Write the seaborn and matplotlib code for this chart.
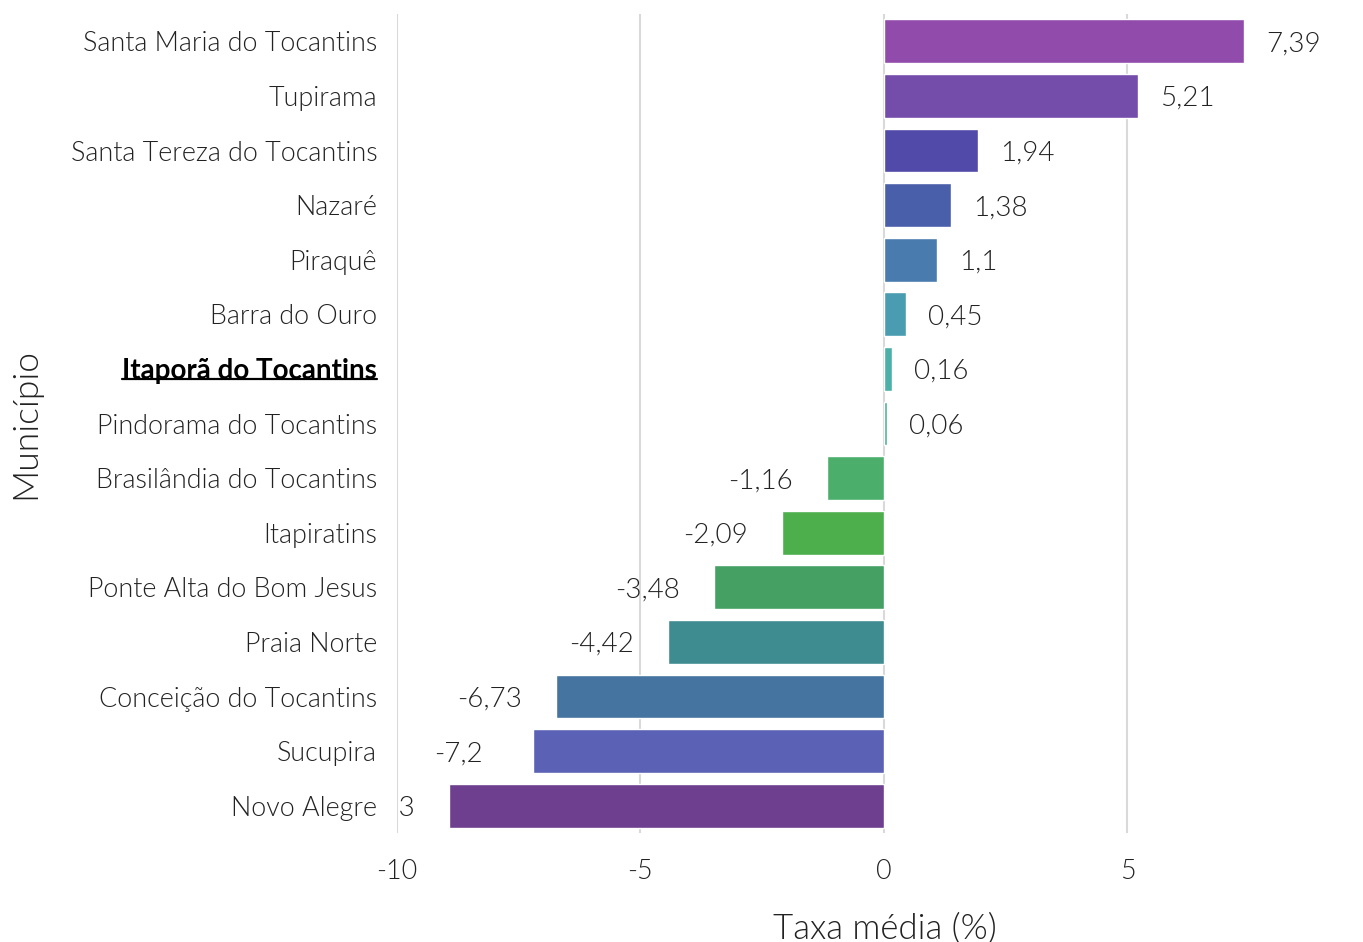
import matplotlib
matplotlib.use("Agg")
import matplotlib.pyplot as plt
import seaborn as sns
from matplotlib.lines import Line2D

# Data
municipios = [
    "Santa Maria do Tocantins", "Tupirama", "Santa Tereza do Tocantins", "Nazaré",
    "Piraquê", "Barra do Ouro", "Itaporã do Tocantins", "Pindorama do Tocantins",
    "Brasilândia do Tocantins", "Itapiratins", "Ponte Alta do Bom Jesus",
    "Praia Norte", "Conceição do Tocantins", "Sucupira", "Novo Alegre",
]
taxas = [7.39, 5.21, 1.94, 1.38, 1.1, 0.45, 0.16, 0.06,
         -1.16, -2.09, -3.48, -4.42, -6.73, -7.2, -8.93]
cores = [
    "#914bab", "#744dab", "#524aa8", "#4a5faa", "#4a7bae", "#4a9db0",
    "#4db0a8", "#4db58f", "#4baf6b", "#4caf4c", "#45a063", "#3f8c90",
    "#44749f", "#5b62b5", "#6e3e8f",
]
destaque = "Itaporã do Tocantins"
xticks = [-10, -5, 0, 5]

sns.set_style("white")
plt.rcParams["font.family"] = ["Lato", "DejaVu Sans"]
LIGHT = 300
TXT = "#222222"

fig = plt.figure(figsize=(13.63, 9.42), dpi=100)
ax = fig.add_axes([0.291, 0.1157, 0.697, 0.8694])

sns.barplot(x=taxas, y=municipios, hue=municipios, palette=cores,
            legend=False, orient="h", width=0.8, saturation=1, ax=ax)

ax.set_xlim(-10, 9.5)
ax.set_xticks(xticks)
ax.set_xticklabels([str(t) for t in xticks])
ax.grid(axis="x", color="#d9d9d9", linewidth=1.5)
ax.grid(axis="y", visible=False)
ax.set_axisbelow(True)
for s in ax.spines.values():
    s.set_visible(False)
ax.tick_params(axis="both", length=0, labelsize=19.4, labelcolor=TXT)
ax.tick_params(axis="x", pad=19)
ax.tick_params(axis="y", pad=14)
for lab in ax.get_xticklabels() + ax.get_yticklabels():
    lab.set_fontweight(LIGHT)

# value labels (clipped at the axes edge, like the original)
for i, v in enumerate(taxas):
    txt = f"{v:g}".replace(".", ",")
    xpos = v + 0.45 if v > 0 else v - 2.03
    ax.text(xpos, i, txt, ha="left", va="center_baseline", fontsize=20,
            fontweight=LIGHT, color=TXT, clip_on=True)

ax.set_ylabel("Município", fontsize=25.5, fontweight=LIGHT, color=TXT)
ax.set_xlabel("Taxa média (%)", fontsize=25, fontweight=LIGHT, color=TXT)
ax.xaxis.set_label_coords(0.514, -0.097)
ax.yaxis.set_label_coords(-0.374, 0.5)

# highlight the focus municipality
hl = None
for lab in ax.get_yticklabels():
    if lab.get_text() == destaque:
        lab.set_fontweight("bold")
        lab.set_fontsize(20)
        lab.set_color("black")
        hl = lab

fig.canvas.draw()
if hl is not None:
    bb = hl.get_window_extent()
    y = bb.y0 + 0.2 * bb.height
    fig.add_artist(Line2D([bb.x0 / fig.bbox.width, bb.x1 / fig.bbox.width],
                          [y / fig.bbox.height, y / fig.bbox.height],
                          color="black", linewidth=1.6))

fig.savefig("out.png", dpi=100)
